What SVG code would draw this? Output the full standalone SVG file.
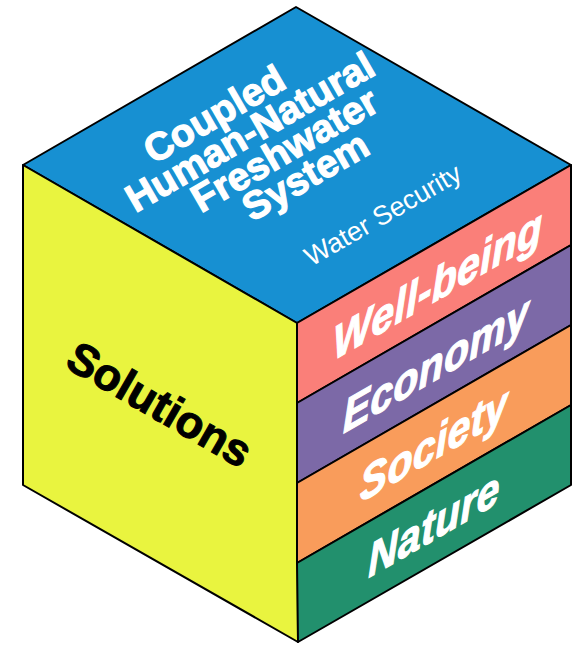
<svg xmlns="http://www.w3.org/2000/svg" width="576" height="645" viewBox="0 0 576 645">
  <style>
    .face { stroke: #000; stroke-width: 2; stroke-linejoin: round; }
    .top { fill: #1790d2; }
    .left { fill: #e9f43f; }
    .wellbeing { fill: #fa7f79; }
    .economy { fill: #7c69a7; }
    .society { fill: #f99c5b; }
    .nature { fill: #22906d; }
    .title { font-family: "Liberation Sans", Arial, sans-serif; font-weight: 700; font-size: 39px; fill: #fff; stroke: #fff; stroke-width: 1.2; text-anchor: middle; }
    .sub { font-family: "Liberation Sans", Arial, sans-serif; font-weight: 400; font-size: 27px; fill: #fff; text-anchor: middle; }
    .dim { font-family: "Liberation Sans", Arial, sans-serif; font-weight: 700; font-style: italic; font-size: 47px; letter-spacing: 0.5px; fill: #fff; stroke: #fff; stroke-width: 1.2; text-anchor: middle; }
    .sol { font-family: "Liberation Sans", Arial, sans-serif; font-weight: 700; font-size: 45px; fill: #000; stroke: #000; stroke-width: 1; text-anchor: middle; }
  </style>

  <!-- top face: the freshwater system -->
  <g id="system">
    <polygon class="face top" points="296,7 571,165 297,323 23,165"/>
    <g transform="translate(258,146) rotate(-30)">
      <text class="title" x="-22" y="-36">Coupled</text>
      <text class="title" x="0" y="-3">Human-Natural</text>
      <text class="title" x="21" y="30">Freshwater</text>
      <text class="title" x="26" y="63">System</text>
    </g>
    <g transform="translate(383,215) rotate(-30)">
      <text class="sub" x="0" y="9">Water Security</text>
    </g>
  </g>

  <!-- left face -->
  <g id="solutions">
    <polygon class="face left" points="23,165 297,323 298,642 23,485"/>
    <g transform="translate(160,404) rotate(30)">
      <text class="sol" x="0" y="16">Solutions</text>
    </g>
  </g>

  <!-- right face: four stacked dimensions, text sheared onto the face -->
  <g id="wellbeing">
    <polygon class="face wellbeing" points="297,323 571,165 571,245 297,403"/>
    <g transform="translate(438,284) skewY(-30) scale(0.866 1)">
      <text class="dim" x="0" y="16">Well-being</text>
    </g>
  </g>
  <g id="economy">
    <polygon class="face economy" points="297,403 571,245 571,325 297,483"/>
    <g transform="translate(436,364) skewY(-30) scale(0.866 1)">
      <text class="dim" x="0" y="16">Economy</text>
    </g>
  </g>
  <g id="society">
    <polygon class="face society" points="297,483 571,325 571,405 297,563"/>
    <g transform="translate(434,444) skewY(-30) scale(0.866 1)">
      <text class="dim" x="0" y="16">Society</text>
    </g>
  </g>
  <g id="nature">
    <polygon class="face nature" points="297,563 571,405 571,485 298,642"/>
    <g transform="translate(434,524) skewY(-30) scale(0.866 1)">
      <text class="dim" x="0" y="16">Nature</text>
    </g>
  </g>

  <g id="connectors"/>
</svg>
